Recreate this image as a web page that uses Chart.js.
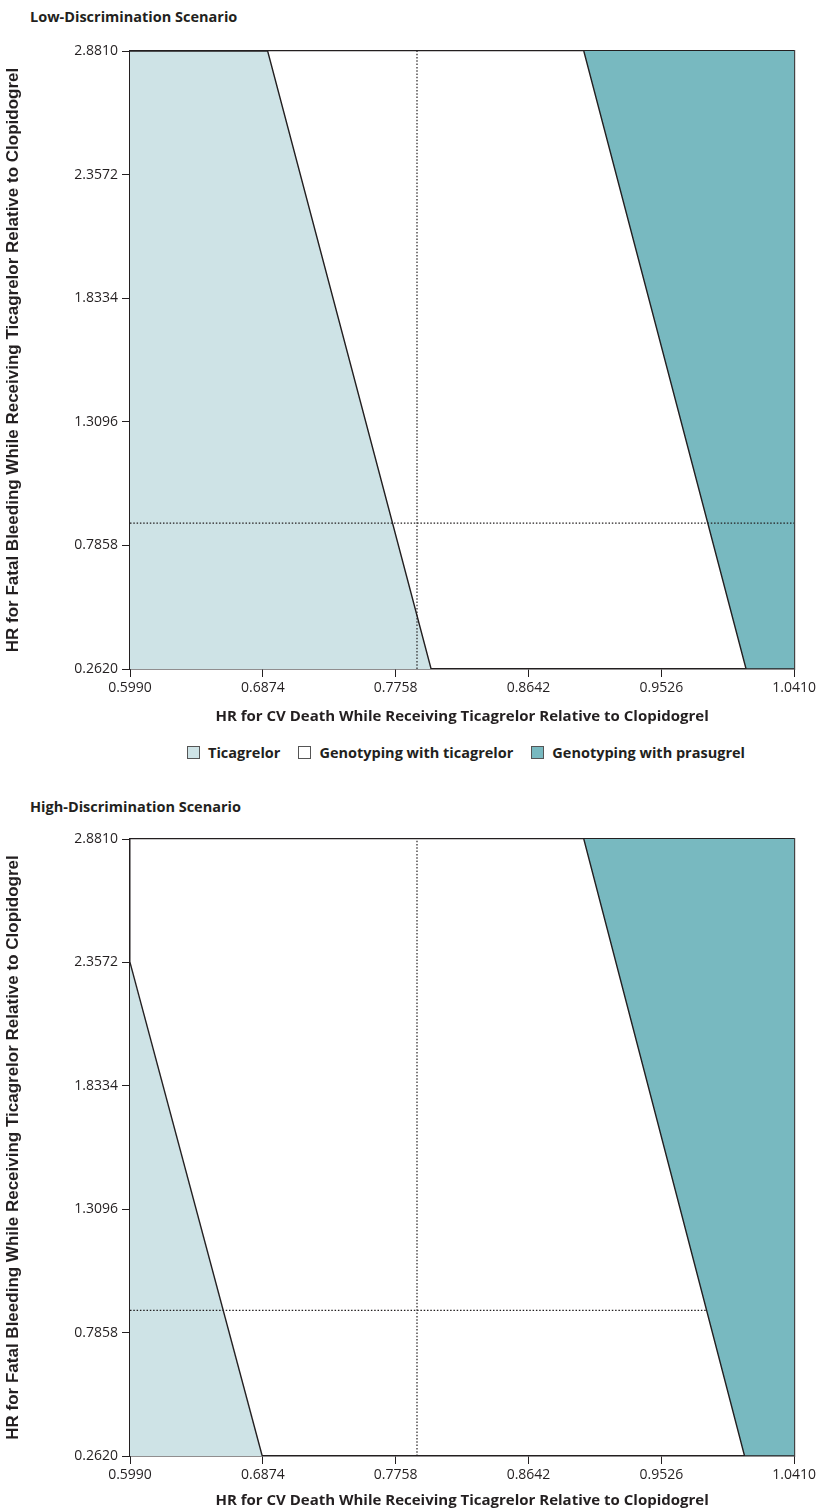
<!DOCTYPE html>
<html>
<head>
<meta charset="utf-8">
<script src="https://cdn.jsdelivr.net/npm/chart.js@4.4.0/dist/chart.umd.min.js"></script>
<style>
  body { margin: 0; background: #fff; width: 819px; height: 1511px; position: relative; overflow: hidden;
         font-family: 'Open Sans', sans-serif; color: #231f20; }
  .title { position: absolute; left: 30px; font-weight: bold; font-size: 14.5px; line-height: 20px; }
  canvas { position: absolute; left: 0; }
  #legend { position: absolute; top: 743px; left: 133px; width: 666px; text-align: center;
            font-weight: bold; font-size: 14.5px; line-height: 20px; white-space: nowrap; }
  #legend span.item { margin: 0 9px; }
  #legend span.box { display: inline-block; width: 11px; height: 11px; border: 1px solid #555;
                     vertical-align: -1px; margin-right: 8px; }
</style>
</head>
<body>
<div class="title" style="top:7px">Low-Discrimination Scenario</div>
<canvas id="lowChart" width="819" height="735" style="top:0"></canvas>
<div id="legend"></div>
<div class="title" style="top:797px">High-Discrimination Scenario</div>
<canvas id="highChart" width="819" height="741" style="top:770px"></canvas>
<script>
const xTicks = [0.5990, 0.6874, 0.7758, 0.8642, 0.9526, 1.0410];
const yTicks = [0.2620, 0.7858, 1.3096, 1.8334, 2.3572, 2.8810];

// reference point (dotted cross)
const refX = 0.79;
const refY = 0.88;

// low-discrimination boundaries
const lowTicaX = [0.599, 0.6906, 0.7994];
const lowTicaY = [2.881, 2.881, 0.262];
const lowPrasX = [0.901, 1.009, 1.041];
const lowPrasY = [2.881, 0.262, 0.262];
const lowRefEnd = 1.041;

// high-discrimination boundaries
const highTicaX = [0.599, 0.687];
const highTicaY = [2.3572, 0.262];
const highPrasX = [0.901, 1.008, 1.041];
const highPrasY = [2.881, 0.262, 0.262];
const highRefEnd = 0.983;

const legendItems = ['Ticagrelor', 'Genotyping with ticagrelor', 'Genotyping with prasugrel'];
const legendColors = ['#cee3e6', '#ffffff', '#78b9c0'];

const ink = '#231f20';
const tickFont = { family: "'Open Sans', sans-serif", size: 14 };
const xTitleFont = { family: "'Open Sans', sans-serif", size: 15, weight: 'bold' };
const yTitleFont = { family: "'Liberation Sans', Arial, sans-serif", size: 17, weight: 'bold' };

function pts(xs, ys) {
    return xs.map((x, i) => ({ x: x, y: ys[i] }));
}

function makeChart(id, ticaX, ticaY, prasX, prasY, refEnd, padTop, xHeight, xTitlePad) {
    const ctx = document.getElementById(id).getContext('2d');
    const xMin = xTicks[0], xMax = xTicks[xTicks.length - 1];
    const yMin = yTicks[0], yMax = yTicks[yTicks.length - 1];
    return new Chart(ctx, {
        type: 'scatter',
        data: {
            datasets: [{
                data: [{ x: refX, y: yMin }, { x: refX, y: yMax }],
                showLine: true, borderColor: ink, borderWidth: 1.2, borderDash: [1.5, 1.8],
                pointRadius: 0, fill: false, order: 0
            }, {
                data: [{ x: xMin, y: refY }, { x: refEnd, y: refY }],
                showLine: true, borderColor: ink, borderWidth: 1.2, borderDash: [1.5, 1.8],
                pointRadius: 0, fill: false, order: 0
            }, {
                label: legendItems[0],
                data: pts(ticaX, ticaY),
                showLine: true, borderColor: ink, borderWidth: 1.4,
                backgroundColor: legendColors[0], fill: 'start', pointRadius: 0, order: 1
            }, {
                label: legendItems[2],
                data: pts(prasX, prasY),
                showLine: true, borderColor: ink, borderWidth: 1.4,
                backgroundColor: legendColors[2], fill: 'end', pointRadius: 0, order: 1
            }]
        },
        options: {
            responsive: false,
            animation: false,
            devicePixelRatio: 1,
            layout: { padding: { top: padTop, right: 23, left: 0, bottom: 0 } },
            plugins: { legend: { display: false }, tooltip: { enabled: false } },
            scales: {
                x: {
                    type: 'linear', min: xMin, max: xMax,
                    afterBuildTicks: s => { s.ticks = xTicks.map(v => ({ value: v })); },
                    afterFit: s => { s.height = xHeight; },
                    ticks: { callback: v => v.toFixed(4), font: tickFont, color: ink, padding: 3,
                             autoSkip: false, maxRotation: 0 },
                    grid: { drawOnChartArea: false, tickLength: 8, color: ink, lineWidth: 1 },
                    border: { color: ink, width: 1.5 },
                    title: { display: true, text: 'HR for CV Death While Receiving Ticagrelor Relative to Clopidogrel',
                             font: xTitleFont, color: ink, padding: xTitlePad }
                },
                y: {
                    type: 'linear', min: yMin, max: yMax,
                    afterBuildTicks: s => { s.ticks = yTicks.map(v => ({ value: v })); },
                    afterFit: s => { s.width = 130; },
                    ticks: { callback: v => v.toFixed(4), font: tickFont, color: ink, padding: 4 },
                    grid: { drawOnChartArea: false, tickLength: 8, color: ink, lineWidth: 1 },
                    border: { color: ink, width: 1.5 },
                    title: { display: true, text: 'HR for Fatal Bleeding While Receiving Ticagrelor Relative to Clopidogrel',
                             font: yTitleFont, color: ink, padding: { top: 3, bottom: 0 } }
                },
                x2: {
                    type: 'linear', position: 'top', min: xMin, max: xMax,
                    ticks: { display: false }, grid: { display: false },
                    border: { color: ink, width: 1.2 },
                    afterFit: s => { s.height = 0; }
                },
                y2: {
                    type: 'linear', position: 'right', min: yMin, max: yMax,
                    ticks: { display: false }, grid: { display: false },
                    border: { color: '#444', width: 1.2 },
                    afterFit: s => { s.width = 0; }
                }
            }
        }
    });
}

makeChart('lowChart', lowTicaX, lowTicaY, lowPrasX, lowPrasY, lowRefEnd, 51, 66, { top: 4, bottom: 9 });
makeChart('highChart', highTicaX, highTicaY, highPrasX, highPrasY, highRefEnd, 69, 55, { top: 4, bottom: 1 });

// legend
const legend = document.getElementById('legend');
legendItems.forEach((name, i) => {
    const item = document.createElement('span');
    item.className = 'item';
    const box = document.createElement('span');
    box.className = 'box';
    box.style.background = legendColors[i];
    item.appendChild(box);
    item.appendChild(document.createTextNode(name));
    legend.appendChild(item);
});
</script>
</body>
</html>
